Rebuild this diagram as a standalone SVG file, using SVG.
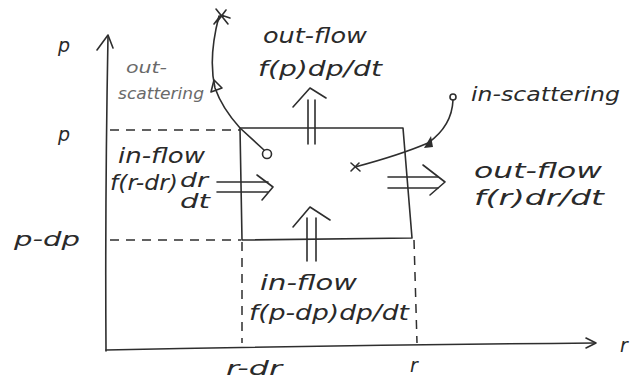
<svg xmlns="http://www.w3.org/2000/svg" width="636" height="380" viewBox="0 0 636 380">
<style>
.ln{fill:none;stroke:#2e2e2e;stroke-width:1.6;stroke-linecap:round;stroke-linejoin:round}
.ds{fill:none;stroke:#2e2e2e;stroke-width:1.5;stroke-dasharray:9 7}
.t{font-family:"DejaVu Sans","Liberation Sans",sans-serif;font-style:italic;fill:#2a2a2a}
.big{font-size:21px}
.mid{font-size:19px}
.gray{font-size:16px;fill:#6a6a6a}
</style>
<rect width="636" height="380" fill="#ffffff"/>
<g id="axes">
  <path class="ln" d="M106 351 Q105 200 108 36"/>
  <path class="ln" d="M97 50 L108 35 L113 48"/>
  <path class="ln" d="M106 350 Q350 345 595 343"/>
  <path class="ln" d="M586 338 L596 343 L586 348"/>
  <text class="t mid" x="58" y="52">p</text>
  <text class="t mid" x="58" y="141">p</text>
  <text class="t mid" x="14" y="246" textLength="66" lengthAdjust="spacingAndGlyphs">p-dp</text>
  <text class="t mid" x="226" y="375" textLength="56" lengthAdjust="spacingAndGlyphs">r-dr</text>
  <text class="t mid" x="410" y="372">r</text>
  <text class="t mid" x="620" y="352">r</text>
</g>
<g id="guides">
  <path class="ds" d="M110 130 L240 130"/>
  <path class="ds" d="M110 240 L241 240"/>
  <path class="ds" d="M242 242 L242 343"/>
  <path class="ds" d="M414 240 L417 343"/>
</g>
<g id="cell">
  <path class="ln" d="M240 128 L403 128 L412 238 L242 240 Z"/>
</g>
<g id="connectors">
  <g id="out-scattering-arrow">
    <circle class="ln" cx="267" cy="154" r="4.5"/>
    <path class="ln" d="M264 150 L240 128 Q222 108 215 88 Q208 58 219 16"/>
    <path class="ln" d="M211 92 L214 80 L222 88 Z"/>
    <path class="ln" d="M216 9 L228 24 M226 10 L217 22 M214 24 L221 15 L230 18"/>
  </g>
  <g id="in-scattering-arrow">
    <circle class="ln" cx="453" cy="97" r="3"/>
    <path class="ln" d="M453 100 Q452 126 428 143 Q400 155 355 167"/>
    <path d="M424 148 L431 136 L433 147 Z" fill="#2e2e2e"/>
    <path class="ln" d="M351 163 L360 171 M351 171 L359 163"/>
  </g>
  <g id="top-outflow-arrow">
    <path class="ln" d="M308 100 L308 144 M315 100 L315 144"/>
    <path class="ln" d="M293 107 L310 88 L326 98"/>
  </g>
  <g id="left-inflow-arrow">
    <path class="ln" d="M217 182 L268 182 M217 192 L268 192"/>
    <path class="ln" d="M257 175 L273 187 L262 200"/>
  </g>
  <g id="bottom-inflow-arrow">
    <path class="ln" d="M307 218 L307 261 M316 218 L316 261"/>
    <path class="ln" d="M293 227 L310 207 L330 220"/>
  </g>
  <g id="right-outflow-arrow">
    <path class="ln" d="M388 177 L438 177 M388 188 L438 188"/>
    <path class="ln" d="M423 165 L445 182 L430 195"/>
  </g>
</g>
<g id="label-out-scattering">
  <text class="t gray" x="126" y="73" textLength="41" lengthAdjust="spacingAndGlyphs">out-</text>
  <text class="t gray" x="118" y="99" textLength="86" lengthAdjust="spacingAndGlyphs">scattering</text>
</g>
<g id="label-top-outflow">
  <text class="t big" x="263" y="43" textLength="104" lengthAdjust="spacingAndGlyphs">out-flow</text>
  <text class="t big" x="258" y="76" textLength="124" lengthAdjust="spacingAndGlyphs">f(p)dp/dt</text>
</g>
<g id="label-in-scattering">
  <text class="t mid" x="471" y="101" textLength="149" lengthAdjust="spacingAndGlyphs">in-scattering</text>
</g>
<g id="label-left-inflow">
  <text class="t big" x="118" y="163" textLength="87" lengthAdjust="spacingAndGlyphs">in-flow</text>
  <text class="t big" x="110" y="190" textLength="68" lengthAdjust="spacingAndGlyphs">f(r-dr)</text>
  <text class="t mid" x="180" y="187" textLength="28" lengthAdjust="spacingAndGlyphs">dr</text>
  <text class="t mid" x="180" y="208" textLength="30" lengthAdjust="spacingAndGlyphs">dt</text>
</g>
<g id="label-right-outflow">
  <text class="t big" x="474" y="178" textLength="128" lengthAdjust="spacingAndGlyphs">out-flow</text>
  <text class="t big" x="474" y="205" textLength="130" lengthAdjust="spacingAndGlyphs">f(r)dr/dt</text>
</g>
<g id="label-bottom-inflow">
  <text class="t big" x="260" y="290" textLength="97" lengthAdjust="spacingAndGlyphs">in-flow</text>
  <text class="t big" x="249" y="320" textLength="160" lengthAdjust="spacingAndGlyphs">f(p-dp)dp/dt</text>
</g>
</svg>
